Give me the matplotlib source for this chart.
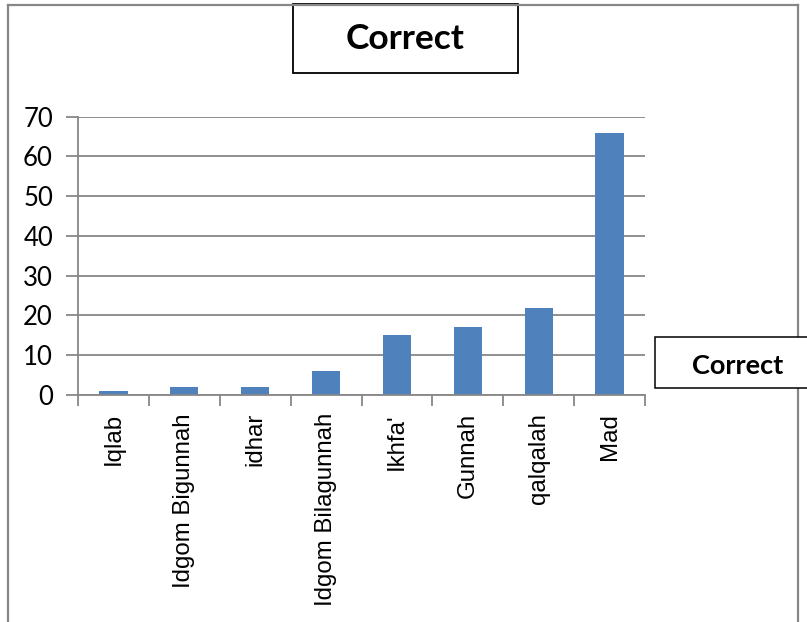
import matplotlib
matplotlib.use("Agg")
import matplotlib.pyplot as plt
from matplotlib.patches import Rectangle
from matplotlib.lines import Line2D
import numpy as np

categories = ["Iqlab", "Idgom Bigunnah", "idhar", "Idgom Bilagunnah",
              "Ikhfa'", "Gunnah", "qalqalah", "Mad"]
values = [1, 2, 2, 6, 15, 17, 22, 66]
y_ticks = [0, 10, 20, 30, 40, 50, 60, 70]
series_name = "Correct"

W, H = 807, 622
fig = plt.figure(figsize=(W / 100, H / 100), dpi=100)
fig.patch.set_facecolor("white")

def fx(px):
    return px / W

def fy(py):
    return 1 - py / H

grey = "#878787"

# outer chart border (left, top, right)
for xs, ys in [((8, 8), (5, H + 5)), ((8, 798), (5, 5)), ((798, 798), (5, H + 5))]:
    fig.add_artist(Line2D([fx(x) for x in xs], [fy(y) for y in ys],
                          color=grey, lw=1.6, transform=fig.transFigure))

ax = fig.add_axes([fx(78), fy(395), fx(645) - fx(78), fy(116.7) - fy(395)])
x = np.arange(len(categories))
ax.bar(x, values, width=0.4, color="#4F81BD", zorder=3)

ax.set_xlim(-0.5, len(categories) - 0.5)
ax.set_ylim(0, 70)
ax.set_yticks(y_ticks)
ax.set_yticklabels([str(v) for v in y_ticks], fontfamily="Lato", fontsize=18.5)
ax.yaxis.grid(True, color=grey, lw=1.3, zorder=0)
ax.tick_params(axis="y", length=9, width=1.3, color=grey, pad=9)

ax.set_xticks(x)
ax.set_xticklabels(categories, rotation=90, fontfamily="Liberation Sans",
                   fontsize=17.3, va="top", ha="center")
ax.tick_params(axis="x", which="major", length=0, pad=13)
ax.set_xticks(np.arange(-0.5, len(categories) + 0.5, 1), minor=True)
ax.tick_params(axis="x", which="minor", length=8, width=1.3, color=grey)

for side in ["top", "right"]:
    ax.spines[side].set_visible(False)
for side in ["left", "bottom"]:
    ax.spines[side].set_color(grey)
    ax.spines[side].set_linewidth(1.3)
    ax.spines[side].set_zorder(4)

# title box
fig.add_artist(Rectangle((fx(293), fy(73)), fx(518) - fx(293), fy(4) - fy(73),
                         fill=False, edgecolor="black", lw=1.3,
                         transform=fig.transFigure))
fig.text(fx(405.5), fy(39), series_name, fontfamily="Lato", fontweight="bold",
         fontsize=25.5, ha="center", va="center")

# legend box
fig.add_artist(Rectangle((fx(655), fy(388)), fx(812) - fx(655), fy(337) - fy(388),
                         fill=True, facecolor="white", edgecolor="black", lw=1.1,
                         transform=fig.transFigure, zorder=5))
fig.text(fx(737.5), fy(366), series_name, fontfamily="Lato", fontweight="bold",
         fontsize=19.5, ha="center", va="center", zorder=6)

fig.savefig("out.png", dpi=100)
